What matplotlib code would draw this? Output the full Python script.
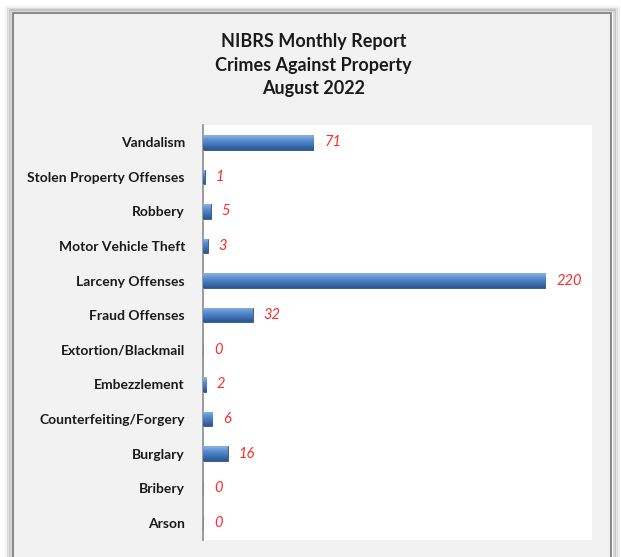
import numpy as np
import matplotlib.pyplot as plt
from matplotlib.patches import Rectangle

# NIBRS monthly report - crimes against property, Aug 2022
categories = ['Vandalism', 'Stolen Property Offenses', 'Robbery', 'Motor Vehicle Theft',
              'Larceny Offenses', 'Fraud Offenses', 'Extortion/Blackmail', 'Embezzlement',
              'Counterfeiting/Forgery', 'Burglary', 'Bribery', 'Arson']
counts = [71, 1, 5, 3, 220, 32, 0, 2, 6, 16, 0, 0]

plt.rcParams['font.family'] = ['Lato', 'DejaVu Sans']

fig = plt.figure(figsize=(6.21, 5.57), dpi=100)
fig.patch.set_facecolor('white')

# chart frame with a soft shadow
for i, a in enumerate([0.06, 0.10, 0.16]):
    off = (3 - i) * 0.003
    fig.patches.append(Rectangle((12 / 621 - off, -0.05), 600 / 621 + 2 * off, 1 - 12 / 557 + 0.05 + off,
                                 transform=fig.transFigure, facecolor='none',
                                 edgecolor=(0, 0, 0, a), lw=2, zorder=0))
fig.patches.append(Rectangle((13 / 621, -0.05), 598 / 621, 1 - 13 / 557 + 0.05,
                             transform=fig.transFigure, facecolor='#f2f2f2',
                             edgecolor='#8c8c8c', lw=1.5, zorder=1))

fig.text(0.505, 1 - 41 / 557, 'NIBRS Monthly Report', ha='center', va='center',
         fontsize=13, fontweight='bold', color='#1a1a1a', zorder=6)
fig.text(0.505, 1 - 65 / 557, 'Crimes Against Property', ha='center', va='center',
         fontsize=13, fontweight='bold', color='#1a1a1a', zorder=6)
fig.text(0.505, 1 - 89 / 557, 'August 2022', ha='center', va='center',
         fontsize=13, fontweight='bold', color='#1a1a1a', zorder=6)

ax = fig.add_axes([203 / 621, 1 - 540 / 557, 389 / 621, 415 / 557])
ax.set_zorder(5)
ax.set_facecolor('white')

y = np.arange(len(categories))
bars = ax.barh(y, counts, height=0.42, color='#4a7ebb', edgecolor='#2c5282', lw=0.6, zorder=2)

# cylinder-like shading on each bar
grad = np.linspace(0, 1, 64).reshape(-1, 1)
cmap = plt.matplotlib.colors.LinearSegmentedColormap.from_list(
    'cyl', ['#8db3e2', '#5b8fd0', '#3f73b5', '#2b5690'])
for b in bars:
    if b.get_width() <= 0:
        continue
    x0, y0, w, h = b.get_x(), b.get_y(), b.get_width(), b.get_height()
    im = ax.imshow(grad, extent=(x0, x0 + w, y0 + h, y0), aspect='auto', cmap=cmap,
                   zorder=3, interpolation='bicubic')
    im.set_clip_path(b)

for yi, c in zip(y, counts):
    ax.text(c + 7, yi, str(c), va='center', ha='left', color='#ff2a2a',
            fontstyle='italic', fontsize=10.5)

ax.set_xlim(0, 250)
ax.set_ylim(len(categories) - 0.5, -0.5)
ax.set_yticks(y)
ax.set_yticklabels(categories, fontsize=10, fontweight='bold', color='#1a1a1a')
ax.tick_params(axis='y', length=0, pad=13)
ax.set_xticks([])
for s in ['top', 'right', 'bottom']:
    ax.spines[s].set_visible(False)
ax.spines['left'].set_color('#8c8c8c')
ax.spines['left'].set_linewidth(1.2)

fig.savefig('out.png', dpi=100)
